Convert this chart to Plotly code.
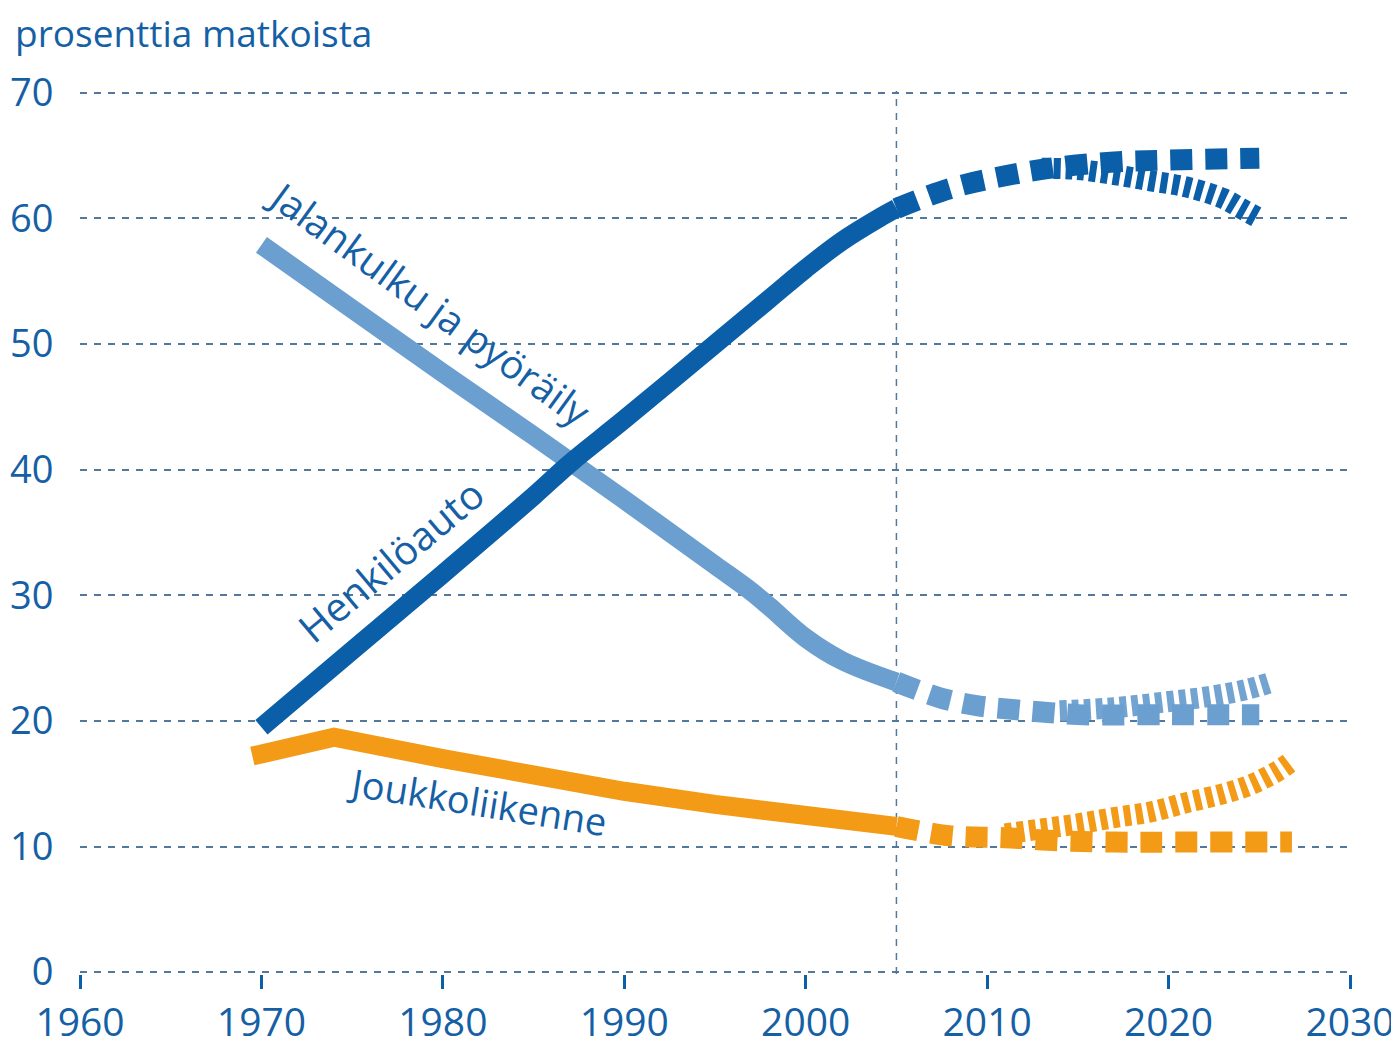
import plotly.graph_objects as go

# ---- data ----
car_years = [1970, 1975, 1980, 1985, 1987, 1990, 1995, 1998, 2000, 2002, 2004, 2005]
car_vals = [19.5, 25.6, 31.7, 37.9, 40.5, 44.0, 50.0, 53.6, 56.0, 58.2, 60.0, 60.8]
car_a_years = [2005, 2008, 2011, 2014, 2017, 2020, 2025]
car_a_vals = [60.8, 62.4, 63.4, 64.1, 64.5, 64.65, 64.8]
car_b_years = [2013, 2015, 2017, 2019, 2021, 2023, 2024, 2025]
car_b_vals = [64.0, 63.9, 63.5, 63.0, 62.5, 61.6, 60.8, 60.0]

walk_years = [1970, 1975, 1980, 1985, 1990, 1995, 1997, 1998, 2000, 2002, 2005]
walk_vals = [57.9, 52.8, 47.7, 42.7, 37.6, 32.4, 30.3, 29.1, 26.6, 24.8, 23.1]
walk_a_years = [2005, 2007.5, 2009.5, 2011.5, 2013.5, 2015, 2020, 2025]
walk_a_vals = [23.1, 21.8, 21.2, 20.9, 20.65, 20.5, 20.5, 20.5]
walk_b_years = [2014, 2017, 2019.5, 2022.5, 2024.3, 2025.5]
walk_b_vals = [20.8, 21.05, 21.45, 22.0, 22.5, 23.0]

pt_years = [1969.5, 1974, 1980, 1985, 1990, 1995, 2000, 2005]
pt_vals = [17.2, 18.7, 17.0, 15.6, 14.4, 13.35, 12.3, 11.6]
pt_a_years = [2005, 2008, 2011, 2014, 2017, 2020, 2026.8]
pt_a_vals = [11.6, 10.85, 10.7, 10.45, 10.35, 10.35, 10.35]
pt_b_years = [2011, 2013, 2015, 2017, 2019, 2021, 2023, 2024.5, 2026, 2026.7]
pt_b_vals = [11.0, 11.4, 11.8, 12.3, 12.75, 13.5, 14.2, 14.9, 16.0, 16.7]

x_ticks = [1960, 1970, 1980, 1990, 2000, 2010, 2020, 2030]
y_ticks = [0, 10, 20, 30, 40, 50, 60, 70]

labels = ["Jalankulku ja pyöräily", "Henkilöauto", "Joukkoliikenne"]
label_x = [1979.3, 1977.1, 1981.9]
label_y = [53.3, 32.8, 13.6]
label_angle = [36, -40, 9]
label_size = [39, 40, 38]

# ---- styles ----
CAR = "#0a5fa8"
WALK = "#6b9fcf"
PT = "#f39b17"
TXT = "#1560a5"
GRID = "#52799c"
FONT = "Open Sans"

SOLID_W = 19
BIG_DASH = "22px,13px"
SMALL_DASH = "7px,5px"

fig = go.Figure()

def add(x, y, color, dash=None, width=SOLID_W, opacity=1.0, shape="spline"):
    line = dict(color=color, width=width, shape=shape)
    if dash:
        line["dash"] = dash
    fig.add_trace(go.Scatter(x=x, y=y, mode="lines", line=line, opacity=opacity,
                             hoverinfo="skip", showlegend=False))

# projections first
add(walk_a_years, walk_a_vals, WALK, BIG_DASH, 21)
add(walk_b_years, walk_b_vals, WALK, SMALL_DASH, 21, 0.95)
add(pt_a_years, pt_a_vals, PT, BIG_DASH, 21)
add(pt_b_years, pt_b_vals, PT, SMALL_DASH, 21)
add(car_a_years, car_a_vals, CAR, BIG_DASH, 21)
add(car_b_years, car_b_vals, CAR, SMALL_DASH, 21)

# history
add(pt_years, pt_vals, PT, shape="linear")
add(walk_years, walk_vals, WALK)
add(car_years, car_vals, CAR)

for t, lx, ly, ang, sz in zip(labels, label_x, label_y, label_angle, label_size):
    fig.add_annotation(x=lx, y=ly, text=t, showarrow=False, textangle=ang,
                       font=dict(family=FONT, size=sz, color=TXT))

fig.add_annotation(xref="paper", yref="paper", x=-0.0525, y=1.066,
                   xanchor="left", yanchor="middle", showarrow=False,
                   text="prosenttia matkoista",
                   font=dict(family=FONT, size=37, color=TXT))

fig.add_shape(type="line", xref="x", yref="paper", x0=2005, x1=2005, y0=0, y1=1,
              line=dict(color=GRID, width=1.5, dash="7px,7px"), layer="below")

# page body has an 8px margin, so the figure is shrunk by that amount
fig.update_layout(
    width=1391, height=1040,
    margin=dict(l=72, r=49, t=83, b=74),
    paper_bgcolor="white", plot_bgcolor="white",
    font=dict(family=FONT, color=TXT),
    xaxis=dict(range=[1960, 2030], tickvals=x_ticks, ticktext=[str(v) for v in x_ticks],
               showgrid=False, zeroline=False, showline=False, automargin=False,
               ticks="outside", ticklen=14, tickwidth=3, tickcolor=CAR,
               ticklabeloverflow="allow",
               tickfont=dict(family=FONT, size=39, color=TXT)),
    yaxis=dict(range=[-0.15, 70.15], tickvals=y_ticks, ticktext=[str(v) for v in y_ticks],
               showgrid=True, gridcolor=GRID, gridwidth=1.5, griddash="7px,7px",
               zeroline=False, showline=False, automargin=False,
               ticks="outside", ticklen=18, tickcolor="rgba(0,0,0,0)",
               ticklabeloverflow="allow",
               tickfont=dict(family=FONT, size=38, color=TXT)),
)

fig.write_html("out.html")
